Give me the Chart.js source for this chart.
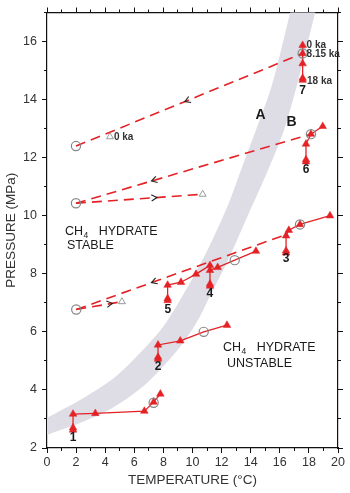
<!DOCTYPE html>
<html><head><meta charset="utf-8">
<script src="https://cdn.jsdelivr.net/npm/chart.js@4.4.1/dist/chart.umd.min.js"></script>
<style>html,body{margin:0;padding:0;background:#fff;}#wrap{width:350px;height:493px;}</style>
</head><body><div id="wrap"><canvas id="c" width="350" height="493"></canvas></div>
<script>
// ---- tick values ----
const xMajorTicks = [0,2,4,6,8,10,12,14,16,18,20];
const xMinorTicks = [0,1,2,3,4,5,6,7,8,9,10,11,12,13,14,15,16,17,18,19,20];
const yMajorTicks = [2,4,6,8,10,12,14,16];
const yMinorTicks = [2,3,4,5,6,7,8,9,10,11,12,13,14,15,16,17];

// ---- hydrate stability band (edges A and B) ----
const bandUpperT = [-0.5, 0, 2.27, 4.60, 6.39, 7.97, 9.14, 10.24, 11.20, 12.44, 13.33, 14.36, 15.46, 16.70, 17.0];
const bandUpperP = [2.85, 3.03, 3.65, 4.41, 5.27, 6.17, 7.09, 8.06, 8.99, 10.37, 11.57, 12.95, 14.50, 16.97, 17.6];
const bandLowerT = [-0.5, 0, 2.27, 4.60, 6.87, 9.14, 10.38, 11.41, 12.44, 13.81, 15.19, 16.29, 17.18, 18.42, 18.75];
const bandLowerP = [2.30, 2.45, 2.86, 3.41, 4.24, 5.48, 6.41, 7.44, 8.47, 10.02, 11.57, 12.95, 14.50, 16.97, 17.6];

// ---- dashed paths ----
const dash1T = [1.99, 17.57], dash1P = [12.40, 15.59];
const dash2T = [1.99, 18.14], dash2P = [10.43, 12.81];
const dash3T = [1.99, 10.70], dash3P = [10.43, 10.74];
const dash4T = [2.01, 16.43], dash4P = [6.77, 9.35];
const dash5T = [2.01, 5.15],  dash5P = [6.77, 7.04];

// arrows on dashed paths: path number, temperature, direction
const arrowPath = [1, 2, 3, 4, 5];
const arrowT    = [9.6, 7.31, 7.42, 7.31, 4.35];
const arrowDir  = [-1, -1, 1, -1, 1];

// ---- trajectories (solid, filled triangles) ----
const traj1T = [1.79, 1.79, 1.79, 3.32, 6.69, 7.33, 7.79];
const traj1P = [2.62, 2.70, 3.17, 3.19, 3.27, 3.58, 3.86];
const traj2T = [7.63, 7.63, 7.63, 9.16, 10.77, 12.37];
const traj2P = [5.06, 5.13, 5.55, 5.69, 6.00, 6.23];
const traj3T = [16.43, 16.43, 16.43, 16.62, 17.39, 19.45];
const traj3P = [8.72, 8.79, 9.31, 9.50, 9.70, 10.00];
const traj4T = [11.20, 11.20, 11.20, 11.73, 12.90, 14.36];
const traj4P = [7.58, 7.65, 8.12, 8.22, 8.47, 8.78];
const traj5T = [8.29, 8.29, 8.29, 9.21, 10.24, 11.20];
const traj5P = [7.08, 7.15, 7.61, 7.71, 7.99, 8.29];
const traj6T = [17.80, 17.80, 17.80, 18.14, 18.95];
const traj6P = [11.86, 11.93, 12.47, 12.81, 13.08];
const traj7T = [17.57, 17.57, 17.57, 17.57, 17.57];
const traj7P = [14.67, 14.74, 15.24, 15.59, 15.87];

// ---- open circles and open triangles ----
const circleT = [1.99, 1.99, 2.01, 17.57, 18.14, 17.39, 12.90, 10.77, 7.33];
const circleP = [12.40, 10.43, 6.77, 15.59, 12.81, 9.70, 8.47, 6.00, 3.56];
const openTriT = [4.33, 10.70, 5.15];
const openTriP = [12.72, 10.74, 7.04];

// ---- helpers ----
const pts = (T, P) => T.map((t, i) => ({x: t, y: P[i]}));
const RED = 'rgb(228,34,38)';
const FONT = "'Liberation Sans', Arial, Helvetica, sans-serif";
const dashPaths = [[dash1T,dash1P],[dash2T,dash2P],[dash3T,dash3P],[dash4T,dash4P],[dash5T,dash5P]];
const trajs = [[traj1T,traj1P],[traj2T,traj2P],[traj3T,traj3P],[traj4T,traj4P],[traj5T,traj5P],[traj6T,traj6P],[traj7T,traj7P]];
// trajectory points hidden under circles (no triangle marker)
const noMarker = {1: [4], 3: [4]};

const bandData = pts(bandUpperT, bandUpperP).concat(pts(bandLowerT, bandLowerP).reverse());

const datasets = [];
datasets.push({data: bandData, showLine: true, fill: 'shape', backgroundColor: 'rgb(222,221,230)',
  borderWidth: 0, borderColor: 'rgba(0,0,0,0)', pointRadius: 0, tension: 0.3, order: 10});
dashPaths.forEach(([T, P]) => datasets.push({data: pts(T, P), showLine: true, borderColor: RED,
  borderWidth: 1.6, borderDash: [10, 6], pointRadius: 0, order: 6}));
trajs.forEach(([T, P], k) => datasets.push({data: pts(T, P), showLine: true, borderColor: RED, borderWidth: 1.3,
  pointStyle: 'triangle', backgroundColor: RED, pointBorderColor: RED, pointBorderWidth: 0.5,
  pointRadius: T.map((_, i) => (noMarker[k] && noMarker[k].includes(i)) ? 0 : 4.4), order: 4}));
datasets.push({data: pts(circleT, circleP), showLine: false, pointStyle: 'circle', pointRadius: 4.6,
  backgroundColor: 'rgba(0,0,0,0)', pointBorderColor: '#868686', pointBorderWidth: 1.2, order: 2});
datasets.push({data: pts(openTriT, openTriP), showLine: false, pointStyle: 'triangle', pointRadius: 4,
  backgroundColor: '#fff', pointBorderColor: '#9a9a9a', pointBorderWidth: 1, order: 2});

// ---- text annotations (data coordinates) ----
const labelsBold = [
  {t: 1.79, p: 2.34, s: '1'}, {t: 7.63, p: 4.79, s: '2'}, {t: 16.43, p: 8.51, s: '3'},
  {t: 11.2, p: 7.30, s: '4'}, {t: 8.30, p: 6.75, s: '5'}, {t: 17.8, p: 11.6, s: '6'},
  {t: 17.57, p: 14.29, s: '7'}
];

const annot = {
  id: 'annot',
  afterDatasetsDraw(chart) {
    const ctx = chart.ctx, xs = chart.scales.x, ys = chart.scales.y;
    const px = v => xs.getPixelForValue(v), py = v => ys.getPixelForValue(v);
    ctx.save();
    // arrows
    arrowPath.forEach((pi, i) => {
      const [T, P] = dashPaths[pi - 1];
      const x0 = px(T[0]), y0 = py(P[0]), x1 = px(T[1]), y1 = py(P[1]);
      const f = (arrowT[i] - T[0]) / (T[1] - T[0]);
      const cx = x0 + (x1 - x0) * f, cy = y0 + (y1 - y0) * f;
      let ang = Math.atan2(y1 - y0, x1 - x0);
      if (arrowDir[i] < 0) ang += Math.PI;
      ctx.save(); ctx.translate(cx, cy); ctx.rotate(ang);
      ctx.beginPath(); ctx.moveTo(-3.5, -3.2); ctx.lineTo(2, 0); ctx.lineTo(-3.5, 3.2);
      ctx.strokeStyle = '#222'; ctx.lineWidth = 1.1; ctx.stroke(); ctx.restore();
    });
    ctx.fillStyle = '#1a1a1a';
    ctx.textAlign = 'center'; ctx.textBaseline = 'middle';
    ctx.font = 'bold 12px ' + FONT;
    labelsBold.forEach(l => ctx.fillText(l.s, px(l.t), py(l.p)));
    ctx.font = 'bold 14px ' + FONT;
    ctx.fillText('A', px(14.67), py(13.48));
    ctx.fillText('B', px(16.8), py(13.22));
    ctx.textAlign = 'left';
    ctx.fillStyle = '#333';
    ctx.font = 'bold 10px ' + FONT;
    ctx.fillText('0 ka', px(17.84), py(15.86));
    ctx.fillText('8.15 ka', px(17.84), py(15.56));
    ctx.fillText('18 ka', px(17.87), py(14.63));
    ctx.fillText('0 ka', px(4.6), py(12.71));
    // CH4 hydrate labels
    const ch4 = (x, y, rest) => {
      ctx.textBaseline = 'alphabetic';
      ctx.font = '12.5px ' + FONT;
      ctx.fillText('CH', x, y);
      let w = ctx.measureText('CH').width;
      ctx.font = '8.5px ' + FONT;
      ctx.fillText('4', x + w + 0.5, y + 3);
      w += ctx.measureText('4').width + 0.5;
      ctx.font = '12.5px ' + FONT;
      ctx.fillText(rest, x + w, y);
    };
    ctx.fillStyle = '#1a1a1a';
    ch4(px(1.24), py(9.33), '   HYDRATE');
    ctx.fillText('STABLE', px(1.37), py(8.85));
    ch4(px(12.1), py(5.35), '   HYDRATE');
    ctx.fillText('UNSTABLE', px(12.37), py(4.80));
    ctx.restore();
  }
};

const tickFont = {family: FONT, size: 12.5};
const titleFont = {family: FONT, size: 13.5};
const AX = '#111';
const setTicks = arr => s => { s.ticks = arr.map(v => ({value: v})); };
const minorAxis = (pos, isX, arr, min, max) => ({
  type: 'linear', position: pos, min, max, weight: 0,
  afterBuildTicks: setTicks(arr),
  ticks: {display: false},
  grid: {drawOnChartArea: false, drawTicks: true, tickLength: 3, tickColor: AX, tickWidth: 1},
  border: {display: false},
  afterFit: s => { if (isX) s.height = 0; else s.width = 0; }
});

new Chart(document.getElementById('c'), {
  type: 'scatter',
  data: {datasets},
  options: {
    responsive: false, animation: false,
    layout: {padding: 0},
    plugins: {legend: {display: false}, tooltip: {enabled: false}},
    scales: {
      x: {type: 'linear', position: 'bottom', min: 0, max: 20, weight: 1,
        afterBuildTicks: setTicks(xMajorTicks),
        ticks: {font: tickFont, color: '#333', padding: 2, maxRotation: 0, autoSkip: false},
        grid: {drawOnChartArea: false, tickLength: 5, tickColor: AX, tickWidth: 1},
        border: {color: AX, width: 1.2},
        title: {display: true, text: 'TEMPERATURE (°C)', font: titleFont, color: '#333', padding: {top: 0, bottom: 5}},
        afterFit: s => { s.height = 45; }},
      xMinor: minorAxis('bottom', true, xMinorTicks, 0, 20),
      xTop: {type: 'linear', position: 'top', min: 0, max: 20, weight: 1,
        afterBuildTicks: setTicks(xMajorTicks), ticks: {display: false},
        grid: {drawOnChartArea: false, tickLength: 5, tickColor: AX, tickWidth: 1},
        border: {color: AX, width: 1.2}, afterFit: s => { s.height = 12; }},
      xTopMinor: minorAxis('top', true, xMinorTicks, 0, 20),
      y: {type: 'linear', position: 'left', min: 2, max: 17, weight: 1,
        afterBuildTicks: setTicks(yMajorTicks),
        ticks: {font: tickFont, color: '#333', padding: 5, autoSkip: false},
        grid: {drawOnChartArea: false, tickLength: 5, tickColor: AX, tickWidth: 1},
        border: {color: AX, width: 1.2},
        title: {display: true, text: 'PRESSURE (MPa)', font: titleFont, color: '#333', padding: {top: 3, bottom: 0}},
        afterFit: s => { s.width = 47; }},
      yMinor: minorAxis('left', false, yMinorTicks, 2, 17),
      yRight: {type: 'linear', position: 'right', min: 2, max: 17, weight: 1,
        afterBuildTicks: setTicks(yMajorTicks), ticks: {display: false},
        grid: {drawOnChartArea: false, tickLength: 5, tickColor: AX, tickWidth: 1},
        border: {color: AX, width: 1.2}, afterFit: s => { s.width = 12; }},
      yRightMinor: minorAxis('right', false, yMinorTicks, 2, 17)
    }
  },
  plugins: [annot]
});
</script></body></html>
